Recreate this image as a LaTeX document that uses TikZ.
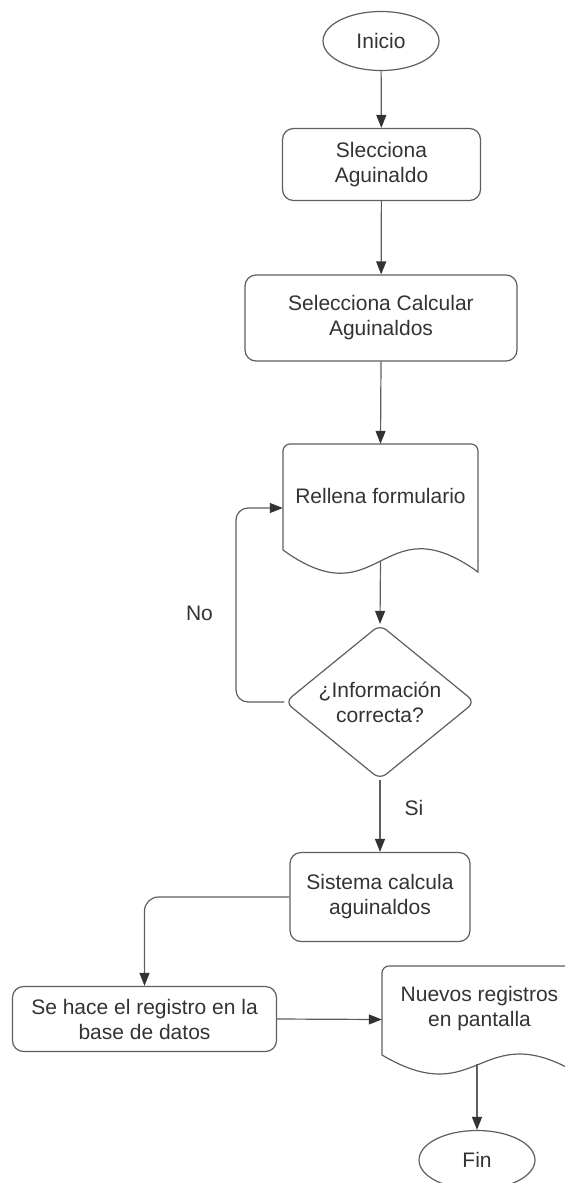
\documentclass[tikz,border=0pt]{standalone}
\usepackage{fontspec}
\setmainfont{Liberation Sans}
\usetikzlibrary{arrows.meta,shapes.geometric}
\definecolor{ln}{HTML}{5E5E5E}
\definecolor{tx}{HTML}{333333}
\begin{document}
\begin{tikzpicture}[x=1pt,y=-1pt,
  every node/.style={font=\fontsize{21}{25}\selectfont, text=tx, align=center, inner sep=0pt},
  outl/.style={draw=ln, line width=1.2pt},
  term/.style={outl, ellipse, minimum width=116pt, minimum height=59pt},
  proc/.style={outl, rectangle, rounded corners=11pt},
  decis/.style={outl, diamond, aspect=1.226, minimum width=190pt, minimum height=155pt, rounded corners=8pt},
  arr/.style={draw=ln, line width=1.2pt, -{Triangle[length=13pt,width=10pt,color=tx]}},
  lbl/.style={text=tx}]
\useasboundingbox (0,0) rectangle (565,1183);
\clip (0,0) rectangle (565,1183);

% nodes
\node[term] (ini) at (381,41) {Inicio};
\node[proc, minimum width=198pt, minimum height=72pt] (b1) at (381.5,164.5) {Slecciona\\Aguinaldo};
\node[proc, minimum width=272pt, minimum height=86pt] (b2) at (381,318) {Selecciona Calcular\\Aguinaldos};

% document 1
\node[minimum width=195pt, minimum height=128pt] (doc1) at (380.5,508) {};
\node (doc1t) at (380.5,496) {Rellena formulario};
\draw[outl] (283,550) [rounded corners=7pt] -- (283,444) -- (478,444) [sharp corners] -- (478,572)
  .. controls (380.5,501.6) and (380.5,620.4) .. (283,550) -- cycle;
\coordinate (d1b) at (380.5,561);

\node[decis] (dia) at (380,702) {¿Información\\correcta?};
\node[proc, minimum width=180pt, minimum height=89pt] (b3) at (380,897) {Sistema calcula\\aguinaldos};
\node[proc, minimum width=264pt, minimum height=65pt] (b4) at (144.5,1019) {Se hace el registro en la\\base de datos};

% document 2
\node[minimum width=195pt, minimum height=107pt] (doc2) at (479.5,1019.5) {};
\node (doc2t) at (479.5,1009) {Nuevos registros\\en pantalla};
\draw[outl] (382,1055) [rounded corners=7pt] -- (382,966) -- (577,966) [sharp corners] -- (577,1073)
  .. controls (479.5,1015.4) and (479.5,1112.6) .. (382,1055) -- cycle;
\coordinate (d2b) at (477,1064);

\node[term] (fin) at (477,1160) {Fin};

% labels
\node[lbl] (no) at (199.5,613.5) {No};
\node[lbl] (si) at (414,808) {Si};

% connectors
\coordinate (loopx) at (236,0);
\draw[arr] (ini) -- (b1);
\draw[arr] (b1) -- (b2);
\draw[arr] (b2.south) -- (doc1.north);
\draw[arr] (d1b) -- (dia.north);
\draw[arr, rounded corners=12pt] (dia.west) -- (dia.west -| loopx) |- (doc1.west);
\draw[arr] (dia.south) -- (b3.north);
\draw[arr, rounded corners=14pt] (b3.west) -| (b4.north);
\draw[arr] (b4.east) -- (doc2.west);
\draw[arr] (d2b) -- (fin.north);
\end{tikzpicture}
\end{document}
